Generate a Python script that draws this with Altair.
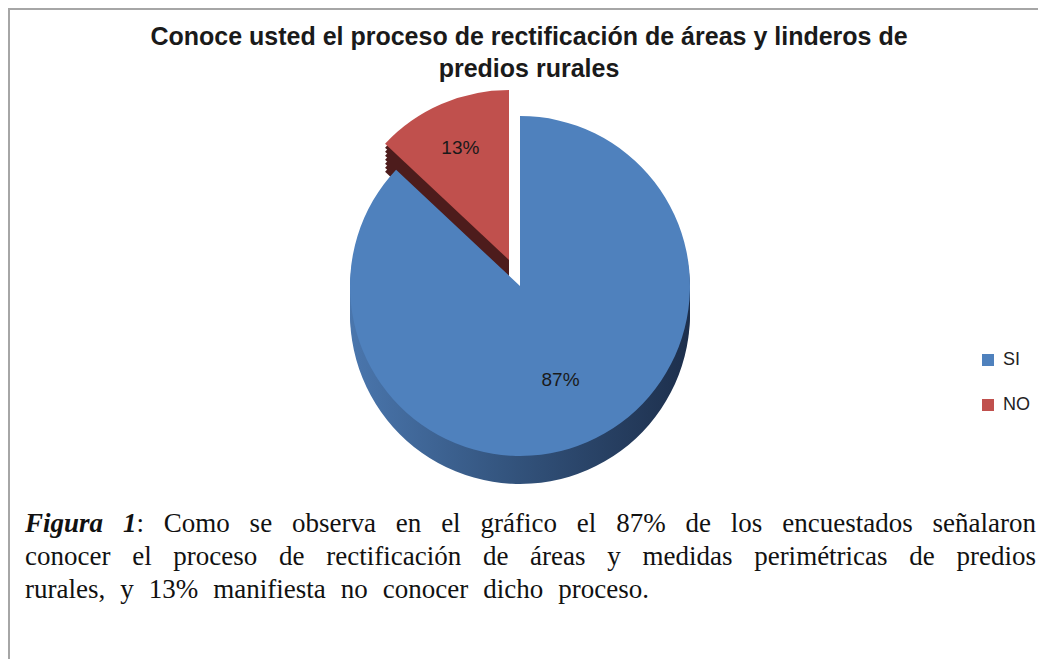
import altair as alt
import pandas as pd

# ---- data -------------------------------------------------------------
categories = ["SI", "NO"]
values = [87, 13]
slice_order = [0, 1]
colors = ["#4f81bd", "#c0504d"]

title_lines = ["Conoce usted el proceso de rectificación de áreas y linderos de",
               "predios rurales"]
caption_lead = "Figura 1"
caption_lines = [": Como se observa en el gráfico el 87% de los encuestados señalaron",
                 "conocer el proceso de rectificación de áreas y medidas perimétricas de predios",
                 "rurales, y 13% manifiesta no conocer dicho proceso."]

df = pd.DataFrame({"cat": categories, "value": values, "order": slice_order})
one = pd.DataFrame({"k": [0]})

# ---- layout constants -------------------------------------------------
W, H = 1030, 651
CX, CY = 512, 278
R = 170
DEPTH = 28
EX, EY = -11, -26          # explode offset of the NO slice

theta_scale = alt.Scale(domain=[0, 100])
color_scale = alt.Scale(domain=categories, range=colors)

base = (alt.Chart(df)
        .transform_stack(stack="value", groupby=[], as_=["start", "end"],
                         sort=[alt.SortField("order")])
        .transform_calculate(mid="(datum.start + datum.end) / 2",
                             label="datum.value + '%'"))

pos = dict(theta=alt.Theta("start:Q", scale=theta_scale),
           theta2=alt.Theta2("end:Q"),
           x=alt.value(CX), y=alt.value(CY))

side_grad = alt.Gradient(
    gradient="linear",
    stops=[alt.GradientStop(color="#4a76ad", offset=0),
           alt.GradientStop(color="#34557f", offset=0.45),
           alt.GradientStop(color="#1d2f4c", offset=1)],
    x1=0, x2=1, y1=0, y2=0)

si = base.transform_filter("datum.cat == 'SI'")
no = base.transform_filter("datum.cat == 'NO'")

layers = []
# frame (top and left only)
layers.append(alt.Chart(one).mark_rule(color="#a6a6a6", strokeWidth=2).encode(
    x=alt.value(0), x2=alt.value(W), y=alt.value(1)))
layers.append(alt.Chart(one).mark_rule(color="#a6a6a6", strokeWidth=2).encode(
    x=alt.value(1), y=alt.value(0), y2=alt.value(H)))

# 3D sides
for d in range(4, DEPTH + 1, 4):
    layers.append(si.mark_arc(radius=R, fill=side_grad, yOffset=d).encode(**pos))
for d in range(4, DEPTH + 1, 4):
    layers.append(no.mark_arc(radius=R, fill="#4d1c1c", xOffset=EX, yOffset=EY + d).encode(**pos))

legend = alt.Legend(title=None, orient="none", legendX=971, legendY=343,
                    symbolType="square", symbolSize=144, symbolStrokeWidth=0,
                    labelFont="Liberation Sans", labelFontSize=18, labelColor="#222222",
                    rowPadding=27, labelOffset=6)

layers.append(no.mark_arc(radius=R, xOffset=EX, yOffset=EY).encode(
    color=alt.Color("cat:N", scale=color_scale, legend=legend), **pos))
layers.append(si.mark_arc(radius=R).encode(
    color=alt.Color("cat:N", scale=color_scale, legend=legend), **pos))

# slice labels
layers.append(si.mark_text(radius=R * 0.6, font="Liberation Sans", fontSize=19,
                           color="#1a1a1a").encode(
    theta=alt.Theta("mid:Q", scale=theta_scale), text="label:N",
    x=alt.value(CX), y=alt.value(CY)))
layers.append(no.mark_text(radius=R * 0.72, font="Liberation Sans", fontSize=19,
                           color="#1a1a1a", xOffset=EX, yOffset=EY).encode(
    theta=alt.Theta("mid:Q", scale=theta_scale), text="label:N",
    x=alt.value(CX), y=alt.value(CY)))

# title
layers.append(alt.Chart(one).mark_text(
    text=title_lines, font="Liberation Sans", fontSize=25, fontWeight="bold",
    align="center", baseline="alphabetic", lineHeight=32, color="#1a1a1a").encode(
    x=alt.value(521), y=alt.value(37)))

# ---- caption, justified word by word (Times metrics, per 1000 em) ----
REG = {' ': 250, 'a': 444, 'b': 500, 'c': 444, 'd': 500, 'e': 444, 'f': 333, 'g': 500,
       'h': 500, 'i': 278, 'j': 278, 'k': 500, 'l': 278, 'm': 778, 'n': 500, 'o': 500,
       'p': 500, 'q': 500, 'r': 333, 's': 389, 't': 278, 'u': 500, 'v': 500, 'w': 722,
       'x': 500, 'y': 500, 'z': 444, 'C': 667, 'F': 556, '%': 833, ':': 278, ',': 250,
       '.': 250, 'á': 444, 'é': 444, 'í': 278, 'ó': 500, 'ñ': 500}
BI = {'F': 667, 'i': 278, 'g': 500, 'u': 556, 'r': 389, 'a': 500, '1': 500, ' ': 250}
CAP = 27


def text_w(s, table):
    return sum(table.get(ch, 500) for ch in s) * CAP / 1000.0


X0 = 17
line_targets = [1028, 1028, 641]
line_y = [524, 557, 590]

lead_words = caption_lead.split(" ")
line_tokens = []
first = caption_lines[0].split(" ")          # ':' glued to '1'
tok0 = [[(lead_words[0], "bi")], [(lead_words[1], "bi"), (first[0], "reg")]]
tok0 += [[(w, "reg")] for w in first[1:]]
line_tokens.append(tok0)
for ln in caption_lines[1:]:
    line_tokens.append([[(w, "reg")] for w in ln.split(" ")])

rows = []
for li, toks in enumerate(line_tokens):
    widths = [sum(text_w(t, BI if st == "bi" else REG) for t, st in tok) for tok in toks]
    gap = (line_targets[li] - X0 - sum(widths)) / (len(toks) - 1)
    x = X0
    for k, (tok, w) in enumerate(zip(toks, widths)):
        if k == len(toks) - 1:
            # last word anchored at the right margin
            rows.append({"w": "".join(t for t, _ in tok), "style": "right",
                         "x": line_targets[li], "y": line_y[li]})
            continue
        xs = x
        for t, st in tok:
            rows.append({"w": t, "style": st, "x": xs, "y": line_y[li]})
            xs += text_w(t, BI if st == "bi" else REG)
        x += w + gap
words = pd.DataFrame(rows)

cap_base = alt.Chart(words).encode(
    x=alt.X("x:Q", scale=None), y=alt.Y("y:Q", scale=None), text="w:N")
layers.append(cap_base.transform_filter("datum.style == 'reg'").mark_text(
    font="Liberation Serif", fontSize=CAP, align="left", baseline="alphabetic",
    color="#111111"))
layers.append(cap_base.transform_filter("datum.style == 'right'").mark_text(
    font="Liberation Serif", fontSize=CAP, align="right", baseline="alphabetic",
    color="#111111"))
layers.append(cap_base.transform_filter("datum.style == 'bi'").mark_text(
    font="Liberation Serif", fontSize=CAP, fontWeight="bold", fontStyle="italic",
    align="left", baseline="alphabetic", color="#111111"))

chart = alt.layer(*layers).properties(
    width=W, height=H, padding=0,
    autosize=alt.AutoSizeParams(type="none")
).configure_view(stroke=None).configure(background="white")

chart.save("out.html", embed_options={"renderer": "svg", "actions": False})
